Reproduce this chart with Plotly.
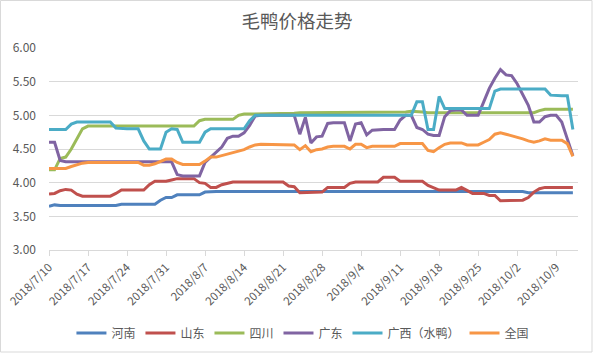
import pandas as pd
import plotly.graph_objects as go

# ---- data (daily prices, 2018/7/10 .. 2018/10/12) ----
start_date = "2018-07-10"

henan = [3.65, 3.67, 3.66, 3.66, 3.66, 3.66, 3.66, 3.66, 3.66, 3.66,
         3.66, 3.66, 3.66, 3.68, 3.68, 3.68, 3.68, 3.68, 3.68, 3.68,
         3.74, 3.78, 3.78, 3.82, 3.82, 3.82, 3.82, 3.82, 3.86, 3.87,
         3.87, 3.87, 3.87, 3.87, 3.87, 3.87, 3.87, 3.87, 3.87, 3.87,
         3.87, 3.87, 3.87, 3.87, 3.87, 3.87, 3.87, 3.87, 3.87, 3.87,
         3.87, 3.87, 3.87, 3.87, 3.87, 3.87, 3.87, 3.87, 3.87, 3.87,
         3.87, 3.87, 3.87, 3.87, 3.87, 3.87, 3.87, 3.87, 3.87, 3.87,
         3.87, 3.87, 3.87, 3.87, 3.87, 3.87, 3.87, 3.87, 3.87, 3.87,
         3.87, 3.87, 3.87, 3.87, 3.87, 3.87, 3.85, 3.85, 3.85, 3.85,
         3.85, 3.85, 3.85, 3.85, 3.85]

shandong = [3.83, 3.84, 3.88, 3.90, 3.89, 3.83, 3.80, 3.80, 3.80, 3.80,
            3.80, 3.80, 3.84, 3.89, 3.89, 3.89, 3.89, 3.89, 3.97, 4.02,
            4.02, 4.02, 4.04, 4.06, 4.06, 4.06, 4.06, 4.00, 3.99, 3.93,
            3.93, 3.97, 3.99, 4.01, 4.01, 4.01, 4.01, 4.01, 4.01, 4.01,
            4.01, 4.01, 4.01, 3.95, 3.94, 3.85, 3.85, 3.85, 3.85, 3.86,
            3.93, 3.93, 3.93, 3.93, 3.99, 4.01, 4.01, 4.01, 4.01, 4.01,
            4.08, 4.08, 4.08, 4.02, 4.02, 4.02, 4.02, 4.02, 3.96, 3.92,
            3.89, 3.89, 3.89, 3.89, 3.93, 3.88, 3.84, 3.84, 3.84, 3.81,
            3.81, 3.73, 3.73, 3.73, 3.73, 3.74, 3.78, 3.86, 3.91, 3.93,
            3.93, 3.93, 3.93, 3.93, 3.93]

sichuan = [4.19, 4.19, 4.36, 4.38, 4.50, 4.66, 4.80, 4.84, 4.84, 4.84,
           4.84, 4.84, 4.84, 4.84, 4.84, 4.84, 4.84, 4.84, 4.84, 4.84,
           4.84, 4.84, 4.84, 4.84, 4.84, 4.84, 4.84, 4.92, 4.94, 4.94,
           4.94, 4.94, 4.94, 4.94, 5.00, 5.02, 5.02, 5.02, 5.02, 5.02,
           5.02, 5.02, 5.02, 5.02, 5.03, 5.04, 5.04, 5.05, 5.04, 5.04,
           5.04, 5.04, 5.04, 5.04, 5.04, 5.04, 5.04, 5.04, 5.04, 5.04,
           5.04, 5.04, 5.04, 5.04, 5.05, 5.06, 5.06, 5.05, 5.04, 5.04,
           5.04, 5.04, 5.03, 5.03, 5.03, 5.03, 5.03, 5.03, 5.03, 5.03,
           5.03, 5.03, 5.03, 5.03, 5.03, 5.03, 5.03, 5.04, 5.07, 5.09,
           5.09, 5.09, 5.09, 5.09, 5.09]

guangdong = [4.60, 4.60, 4.33, 4.31, 4.31, 4.31, 4.31, 4.31, 4.31, 4.31,
             4.31, 4.31, 4.31, 4.31, 4.31, 4.31, 4.31, 4.31, 4.31, 4.31,
             4.31, 4.31, 4.31, 4.12, 4.10, 4.10, 4.10, 4.10, 4.30, 4.38,
             4.45, 4.53, 4.66, 4.69, 4.69, 4.74, 4.85, 4.99, 5.00, 5.00,
             5.00, 5.00, 5.00, 5.00, 5.00, 4.72, 4.97, 4.59, 4.68, 4.69,
             4.88, 4.89, 4.89, 4.89, 4.62, 4.87, 4.89, 4.71, 4.78, 4.79,
             4.79, 4.79, 4.79, 4.93, 5.00, 5.00, 4.82, 4.79, 4.72, 4.70,
             4.70, 4.98, 5.07, 5.08, 5.08, 5.00, 5.00, 5.00, 5.20, 5.40,
             5.55, 5.68, 5.60, 5.59, 5.47, 5.30, 5.15, 4.90, 4.90, 4.98,
             5.00, 5.00, 4.90, 4.65, 4.40]

guangxi = [4.79, 4.79, 4.79, 4.79, 4.87, 4.90, 4.90, 4.90, 4.90, 4.90,
           4.90, 4.90, 4.81, 4.80, 4.80, 4.80, 4.80, 4.62, 4.50, 4.50,
           4.50, 4.75, 4.80, 4.79, 4.60, 4.60, 4.60, 4.60, 4.75, 4.80,
           4.80, 4.80, 4.80, 4.80, 4.80, 4.80, 4.92, 5.00, 5.00, 5.00,
           5.00, 5.00, 5.00, 5.00, 5.00, 5.00, 5.00, 5.00, 5.00, 5.00,
           5.00, 5.00, 5.00, 5.00, 5.00, 5.00, 5.00, 5.00, 5.00, 5.00,
           5.00, 5.00, 5.00, 5.00, 5.00, 5.00, 5.20, 5.20, 4.79, 4.79,
           5.28, 5.10, 5.10, 5.10, 5.10, 5.10, 5.10, 5.10, 5.10, 5.10,
           5.36, 5.39, 5.39, 5.39, 5.39, 5.39, 5.39, 5.39, 5.39, 5.39,
           5.30, 5.29, 5.29, 5.29, 4.79]

national = [4.21, 4.21, 4.21, 4.21, 4.24, 4.27, 4.29, 4.30, 4.30, 4.30,
            4.30, 4.30, 4.30, 4.30, 4.30, 4.30, 4.30, 4.26, 4.26, 4.28,
            4.32, 4.35, 4.35, 4.30, 4.27, 4.27, 4.27, 4.27, 4.32, 4.38,
            4.38, 4.40, 4.43, 4.45, 4.47, 4.49, 4.53, 4.56, 4.57, 4.57,
            4.57, 4.57, 4.57, 4.57, 4.56, 4.49, 4.55, 4.46, 4.49, 4.50,
            4.53, 4.54, 4.54, 4.54, 4.50, 4.57, 4.57, 4.52, 4.54, 4.54,
            4.54, 4.54, 4.54, 4.58, 4.58, 4.58, 4.58, 4.58, 4.48, 4.46,
            4.52, 4.57, 4.59, 4.59, 4.59, 4.56, 4.56, 4.56, 4.60, 4.64,
            4.72, 4.74, 4.72, 4.70, 4.68, 4.65, 4.62, 4.60, 4.62, 4.65,
            4.63, 4.63, 4.63, 4.58, 4.39]

series_names = ["河南", "山东", "四川", "广东", "广西（水鸭）", "全国"]
series_values = [henan, shandong, sichuan, guangdong, guangxi, national]
series_colors = ["#4F81BD", "#C0504D", "#9BBB59", "#8064A2", "#4BACC6", "#F79646"]

dates = pd.date_range(start_date, periods=len(henan), freq="D")

FONT = "Noto Sans CJK SC"
GRAY = "#595959"
GRID = "#D9D9D9"

fig = go.Figure()
for name, vals, col in zip(series_names, series_values, series_colors):
    fig.add_trace(go.Scatter(x=dates, y=vals, mode="lines", name=name,
                             line=dict(color=col, width=3)))

W, H = 594, 353
ml, mr, mt, mb = 49, 16, 48, 103
pw, ph = W - ml - mr, H - mt - mb

fig.update_layout(
    width=W, height=H,
    margin=dict(l=ml, r=mr, t=mt, b=mb, autoexpand=False),
    paper_bgcolor="white", plot_bgcolor="white",
    font=dict(family=FONT, color=GRAY, size=12),
    title=dict(text="毛鸭价格走势", x=0.5, xref="container", xanchor="center",
               y=1 - 22 / H, yref="container", yanchor="middle",
               font=dict(family=FONT, size=18.5, color=GRAY)),
    showlegend=True,
    legend=dict(orientation="h", xref="container", yref="container",
                x=0.51, xanchor="center", y=1 - 333 / H, yanchor="middle",
                font=dict(family=FONT, size=12, color=GRAY),
                itemwidth=30, tracegroupgap=0, bgcolor="rgba(0,0,0,0)"),
    xaxis=dict(type="date", range=["2018-07-10", "2018-10-12 22:00"],
               tick0="2018-07-10", dtick=7 * 24 * 3600 * 1000,
               tickformat="%Y/%-m/%-d", tickangle=-45,
               showgrid=False, showline=True, linecolor=GRID, linewidth=1,
               ticks="outside", ticklen=5, tickcolor=GRID,
               tickfont=dict(family=FONT, size=11.5, color=GRAY),
               zeroline=False, fixedrange=True, automargin=False),
    yaxis=dict(range=[3, 6], dtick=0.5, tick0=3, tickformat=".2f",
               showgrid=True, gridcolor=GRID, gridwidth=1,
               showline=False, zeroline=False, ticks="",
               ticklabelstandoff=12, automargin=False,
               tickfont=dict(family=FONT, size=12, color=GRAY)),
)

# chart-area border
fig.add_shape(type="rect", xref="paper", yref="paper",
              x0=(0.5 - ml) / pw, x1=(592 - ml) / pw,
              y0=(H - mb - 352) / ph, y1=(H - mb - 0.5) / ph,
              line=dict(color=GRID, width=1), fillcolor="rgba(0,0,0,0)",
              layer="below")

fig.write_html("out.html")
